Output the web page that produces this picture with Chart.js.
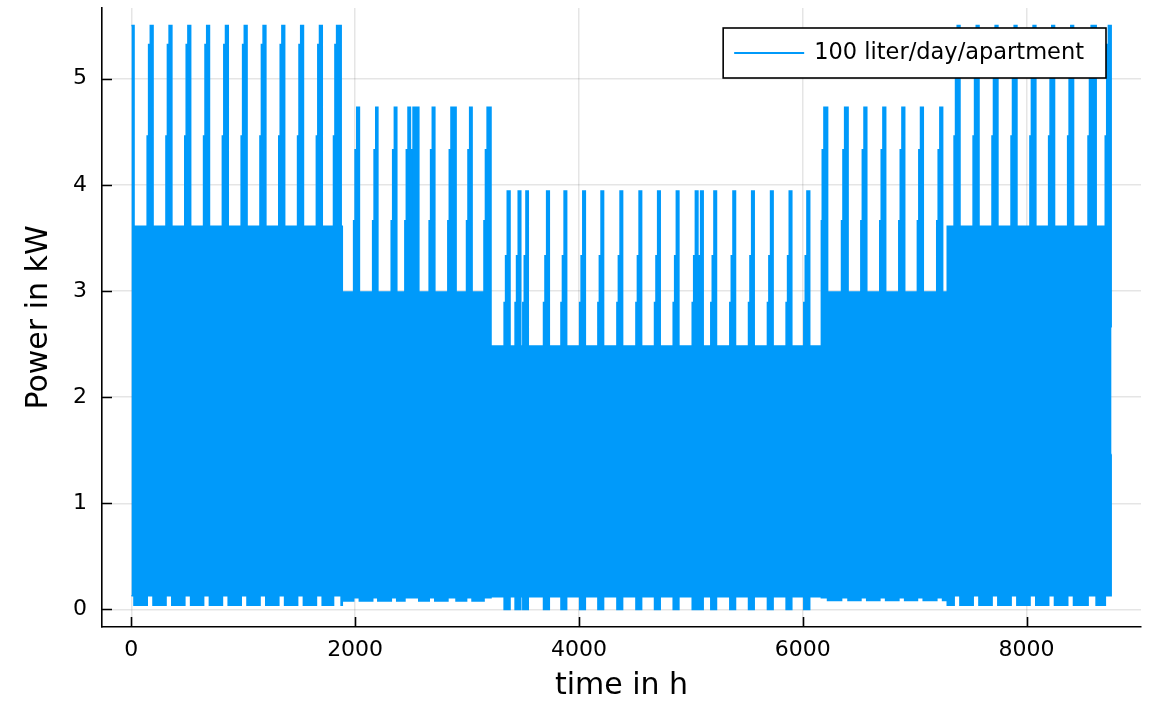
<!DOCTYPE html>
<html>
<head>
<meta charset="utf-8">
<script src="https://cdn.jsdelivr.net/npm/chart.js@4.4.1/dist/chart.umd.min.js"></script>
<style>
  html, body { margin: 0; padding: 0; background: #ffffff; }
  #wrap { width: 1149px; height: 704px; }
</style>
</head>
<body>
<div id="wrap"><canvas id="chart" width="1149" height="704"></canvas></div>
<script>
// ---------------- data ----------------
const seriesLabel = '100 liter/day/apartment';
const xTitle = 'time in h';
const yTitle = 'Power in kW';
const xTickValues = [0, 2000, 4000, 6000, 8000];
const yTickValues = [0, 1, 2, 3, 4, 5];
const xLimits = [-262, 9023];
const yLimits = [-0.165, 5.665];
const lastHour = 8760;

// operating regimes (hour at which each regime begins) and their levels in kW
const seasonStart = [1, 1885, 3214, 6167, 7292];
const bandTop     = [3.61, 2.99, 2.48, 2.99, 3.61];
const bandBottom  = [0.04, 0.08, 0.12, 0.085, 0.04];
const spikeBottom = [0.13, 0.11, 0.00, 0.11, 0.13];
const rampLow     = [4.46, 3.66, 2.89, 3.66, 4.46];
const rampMid     = [5.32, 4.33, 3.33, 4.33, 5.32];
const spikePeak   = [5.50, 4.73, 3.94, 4.73, 5.50];
const rampLeadHours = [28, 15];

// weekly peak plateaus (start / end hour)
const spikeStart = [1, 170, 338, 506, 674, 842, 1010, 1178, 1346, 1514, 1682, 1835,
  2015, 2185, 2351, 2473, 2518, 2690, 2857, 3024, 3180,
  3360, 3458, 3527, 3712, 3868, 4035, 4198, 4368, 4538, 4704, 4871, 5041, 5088, 5207, 5377, 5544, 5713, 5880, 6038,
  6190, 6375, 6548, 6717, 6887, 7053, 7226,
  7381, 7551, 7720, 7890, 8059, 8226, 8396, 8578, 8732];
const spikeEnd = [24, 194, 362, 530, 698, 866, 1034, 1202, 1370, 1538, 1706, 1875,
  2038, 2203, 2372, 2494, 2569, 2712, 2902, 3045, 3214,
  3384, 3480, 3547, 3735, 3890, 4057, 4220, 4390, 4560, 4726, 4893, 5063, 5110, 5229, 5399, 5566, 5735, 5902, 6062,
  6222, 6405, 6572, 6741, 6911, 7077, 7250,
  7405, 7575, 7744, 7914, 8083, 8250, 8420, 8622, 8756];

// last hours of the year
const tailStart = 8756;
const tailTop = 2.66;
const tailBottom = 1.46;

// ---------------- build the envelope table ----------------
const env = [];
function put(x, top, bot) {
  while (env.length && env[env.length - 1].x >= x) env.pop();
  env.push({ x: x, top: top, bot: bot });
}
function seasonOf(h) {
  let s = 0;
  for (let i = 0; i < seasonStart.length; i++) if (seasonStart[i] <= h) s = i;
  return s;
}
let k = 0;
for (let s = 0; s < seasonStart.length; s++) {
  put(seasonStart[s], bandTop[s], bandBottom[s]);
  let prevEnd = seasonStart[s];
  while (k < spikeStart.length && seasonOf(spikeStart[k]) === s) {
    const a = spikeStart[k], b = spikeEnd[k];
    if (a > seasonStart[s]) {
      const r1 = Math.max(a - rampLeadHours[0], prevEnd);
      const r2 = Math.max(a - rampLeadHours[1], r1);
      put(r1, rampLow[s], spikeBottom[s]);
      if (r2 > r1) put(r2, rampMid[s], spikeBottom[s]);
    }
    put(a, spikePeak[s], spikeBottom[s]);
    put(b, bandTop[s], bandBottom[s]);
    prevEnd = b;
    k++;
  }
}
put(tailStart, tailTop, tailBottom);
put(lastHour, tailTop, tailBottom);

const upper = env.map(p => ({ x: p.x, y: p.top }));
const lower = env.map(p => ({ x: p.x, y: p.bot }));

// ---------------- drawing ----------------
const BLUE = '#009AFA';
const FONT = '"DejaVu Sans", "Liberation Sans", sans-serif';

const innerTicks = {
  id: 'innerTicks',
  afterDraw(chart) {
    const { ctx, chartArea, scales } = chart;
    ctx.save();
    ctx.strokeStyle = '#000';
    ctx.lineWidth = 1.6;
    ctx.beginPath();
    scales.x.ticks.forEach(t => {
      const px = Math.round(scales.x.getPixelForValue(t.value)) + 0.5;
      ctx.moveTo(px, chartArea.bottom);
      ctx.lineTo(px, chartArea.bottom - 10);
    });
    scales.y.ticks.forEach(t => {
      const py = Math.round(scales.y.getPixelForValue(t.value)) + 0.5;
      ctx.moveTo(chartArea.left, py);
      ctx.lineTo(chartArea.left + 10, py);
    });
    ctx.stroke();
    ctx.restore();
  }
};

const boxLegend = {
  id: 'boxLegend',
  afterDraw(chart) {
    const { ctx, chartArea } = chart;
    const ds = chart.data.datasets[0];
    ctx.save();
    ctx.font = '22.5px ' + FONT;
    const tw = ctx.measureText(ds.label).width;
    const right = chartArea.right - 35;
    const top = chartArea.top + 20;
    const h = 50;
    const left = right - (11 + 70 + 10 + tw + 22);
    ctx.fillStyle = '#ffffff';
    ctx.fillRect(left, top, right - left, h);
    ctx.strokeStyle = '#000000';
    ctx.lineWidth = 1.6;
    ctx.strokeRect(left, top, right - left, h);
    const cy = top + h / 2;
    ctx.strokeStyle = ds.borderColor;
    ctx.lineWidth = 2;
    ctx.beginPath();
    ctx.moveTo(left + 11, cy);
    ctx.lineTo(left + 81, cy);
    ctx.stroke();
    ctx.fillStyle = '#000000';
    ctx.textAlign = 'left';
    ctx.textBaseline = 'middle';
    ctx.fillText(ds.label, left + 91, cy);
    ctx.restore();
  }
};

new Chart(document.getElementById('chart'), {
  type: 'line',
  data: {
    datasets: [
      {
        label: seriesLabel,
        data: upper,
        stepped: true,
        borderColor: BLUE,
        backgroundColor: BLUE,
        borderWidth: 1.6,
        pointRadius: 0,
        fill: '+1'
      },
      {
        label: 'lower envelope',
        data: lower,
        stepped: true,
        borderColor: BLUE,
        backgroundColor: BLUE,
        borderWidth: 1.6,
        pointRadius: 0,
        fill: false
      }
    ]
  },
  options: {
    responsive: false,
    animation: false,
    devicePixelRatio: 1,
    layout: { padding: { left: 0, top: 8, right: 8, bottom: 0 } },
    plugins: {
      legend: { display: false },
      tooltip: { enabled: false }
    },
    scales: {
      x: {
        type: 'linear',
        min: xLimits[0],
        max: xLimits[1],
        afterBuildTicks: s => { s.ticks = xTickValues.map(v => ({ value: v })); },
        afterFit: s => { s.height = 77; s.paddingLeft = 0; s.paddingRight = 0; },
        grid: { color: 'rgba(0,0,0,0.1)', lineWidth: 1.5, drawTicks: false },
        border: { display: true, color: '#000', width: 1.6 },
        ticks: {
          autoSkip: false, maxRotation: 0, padding: 10, color: '#000',
          font: { family: FONT, size: 22 },
          callback: v => String(v)
        },
        title: {
          display: true, text: xTitle, color: '#000',
          font: { family: FONT, size: 30 },
          padding: { top: 0, bottom: 0 }
        }
      },
      y: {
        type: 'linear',
        min: yLimits[0],
        max: yLimits[1],
        afterBuildTicks: s => { s.ticks = yTickValues.map(v => ({ value: v })); },
        afterFit: s => { s.width = 102; s.paddingTop = 0; s.paddingBottom = 0; },
        grid: { color: 'rgba(0,0,0,0.1)', lineWidth: 1.5, drawTicks: false },
        border: { display: true, color: '#000', width: 1.6 },
        ticks: {
          autoSkip: false, padding: 15, color: '#000',
          font: { family: FONT, size: 22 },
          callback: v => String(v)
        },
        title: {
          display: true, text: yTitle, color: '#000',
          font: { family: FONT, size: 30 },
          padding: { top: 21, bottom: 0 }
        }
      }
    }
  },
  plugins: [innerTicks, boxLegend]
});
</script>
</body>
</html>
